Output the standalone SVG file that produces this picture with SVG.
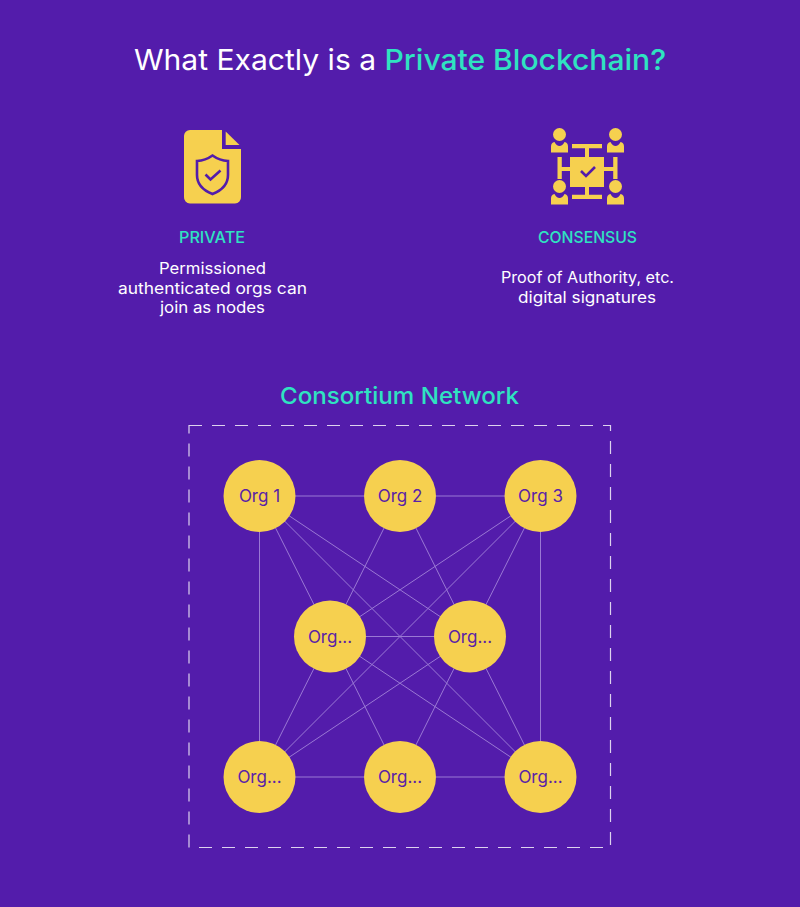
<svg xmlns="http://www.w3.org/2000/svg" width="800" height="907" viewBox="0 0 800 907">
<style>
text{font-family:"Inter","Liberation Sans",sans-serif;text-anchor:middle}
.t{font-size:29px;fill:#fff;font-weight:400}
.a{fill:#2fe3c1;font-weight:500}
.h{font-size:16px;fill:#2fe3c1;font-weight:500}
.b{font-size:16px;fill:#fff}
.n{fill:#f6d04f}
.l{font-size:17px;fill:#5a22a8}
.c line{stroke:#9a78d4;stroke-width:1}
.i{fill:#f6d04f}
.p{fill:none;stroke:#531cab;stroke-width:2.6}
</style>
<defs>
<g id="person"><circle cx="0" cy="-8.500" r="6.500" class="i"/><path class="i" d="M-8.500 9.500v-6q0-4 3.500-4.500q2 4 5 4t5-4q3.500 .5 3.500 4.500v6z"/></g>
</defs>
<rect width="800" height="907" fill="#531cab"/>
<text class="t" x="400" y="70" textLength="532" lengthAdjust="spacingAndGlyphs">What Exactly is a <tspan class="a">Private Blockchain?</tspan></text>
<g id="private-icon">
<path class="i" d="M190 130H222V149H241V197a6 6 0 0 1-6 6.500H190a6 6 0 0 1-6-6.500V136a6 6 0 0 1 6-6z"/>
<path class="i" d="M225.700 131.500L239.500 145H225.700z"/>
<path class="p" stroke-width="3" d="M212.500 155.500q7 5 15.500 5.500v14q0 13-15.500 19q-15.500-6-15.500-19v-14q8.500-.5 15.500-5.500z"/>
<path class="p" stroke-width="3" d="M205.500 174.500l5 5l10-9"/>
</g>
<g id="consensus-icon">
<use href="#person" x="559.500" y="143"/><use href="#person" x="615.500" y="143"/>
<use href="#person" x="559.500" y="195"/><use href="#person" x="615.500" y="195"/>
<rect class="i" x="570" y="157" width="34" height="30"/>
<path class="i" d="M572 144h30v4.300h-13v8.700h-4v-8.700h-13zM572 199h30v-4.300h-13v-7.700h-4v7.700h-13zM557.500 157h4.300v10h8.200v4h-8.200v8h-4.300zM617.500 157h-4.300v10h-9.200v4h9.200v8h4.300z"/>
<path class="p" d="M581 171l5 5l9-9"/>
</g>
<g id="private-text">
<text class="h" x="212" y="243" textLength="66" lengthAdjust="spacingAndGlyphs">PRIVATE</text>
<text class="b" x="212.500" y="274" textLength="107" lengthAdjust="spacingAndGlyphs">Permissioned</text>
<text class="b" x="212.500" y="294" textLength="189" lengthAdjust="spacingAndGlyphs">authenticated orgs can</text>
<text class="b" x="212.500" y="313" textLength="105" lengthAdjust="spacingAndGlyphs">join as nodes</text>
</g>
<g id="consensus-text">
<text class="h" x="587.500" y="243" textLength="99" lengthAdjust="spacingAndGlyphs">CONSENSUS</text>
<text class="b" x="587.500" y="283" textLength="173" lengthAdjust="spacingAndGlyphs">Proof of Authority, etc.</text>
<text class="b" x="587" y="303" textLength="138" lengthAdjust="spacingAndGlyphs">digital signatures</text>
</g>
<text class="a" x="399.500" y="404" font-size="23.500" textLength="239" lengthAdjust="spacingAndGlyphs">Consortium Network</text>
<rect id="network-boundary" x="189" y="425.500" width="421.500" height="422" fill="none" stroke="#ddd2ee" stroke-width="1.200" stroke-dasharray="13 10"/>
<g id="connectors" class="c">
<line x1="259.500" y1="496" x2="400" y2="496"/><line x1="400" y1="496" x2="540.500" y2="496"/>
<line x1="259.500" y1="496" x2="259.500" y2="777"/><line x1="540.500" y1="496" x2="540.500" y2="777"/>
<line x1="259.500" y1="777" x2="400" y2="777"/><line x1="400" y1="777" x2="540.500" y2="777"/>
<line x1="330" y1="636.500" x2="470" y2="636.500"/>
<line x1="259.500" y1="496" x2="330" y2="636.500"/><line x1="259.500" y1="496" x2="470" y2="636.500"/><line x1="259.500" y1="496" x2="540.500" y2="777"/>
<line x1="400" y1="496" x2="330" y2="636.500"/><line x1="400" y1="496" x2="470" y2="636.500"/>
<line x1="540.500" y1="496" x2="470" y2="636.500"/><line x1="540.500" y1="496" x2="330" y2="636.500"/><line x1="540.500" y1="496" x2="259.500" y2="777"/>
<line x1="259.500" y1="777" x2="330" y2="636.500"/><line x1="259.500" y1="777" x2="470" y2="636.500"/>
<line x1="400" y1="777" x2="330" y2="636.500"/><line x1="400" y1="777" x2="470" y2="636.500"/>
<line x1="540.500" y1="777" x2="470" y2="636.500"/><line x1="540.500" y1="777" x2="330" y2="636.500"/>
</g>
<g id="org1"><circle class="n" cx="259.500" cy="496" r="36"/><text class="l" x="259.500" y="502">Org 1</text></g>
<g id="org2"><circle class="n" cx="400" cy="496" r="36"/><text class="l" x="400" y="502">Org 2</text></g>
<g id="org3"><circle class="n" cx="540.500" cy="496" r="36"/><text class="l" x="540.500" y="502">Org 3</text></g>
<g id="org4"><circle class="n" cx="330" cy="636.500" r="36"/><text class="l" x="330" y="642.500">Org...</text></g>
<g id="org5"><circle class="n" cx="470" cy="636.500" r="36"/><text class="l" x="470" y="642.500">Org...</text></g>
<g id="org6"><circle class="n" cx="259.500" cy="777" r="36"/><text class="l" x="259.500" y="783">Org...</text></g>
<g id="org7"><circle class="n" cx="400" cy="777" r="36"/><text class="l" x="400" y="783">Org...</text></g>
<g id="org8"><circle class="n" cx="540.500" cy="777" r="36"/><text class="l" x="540.500" y="783">Org...</text></g>
</svg>
